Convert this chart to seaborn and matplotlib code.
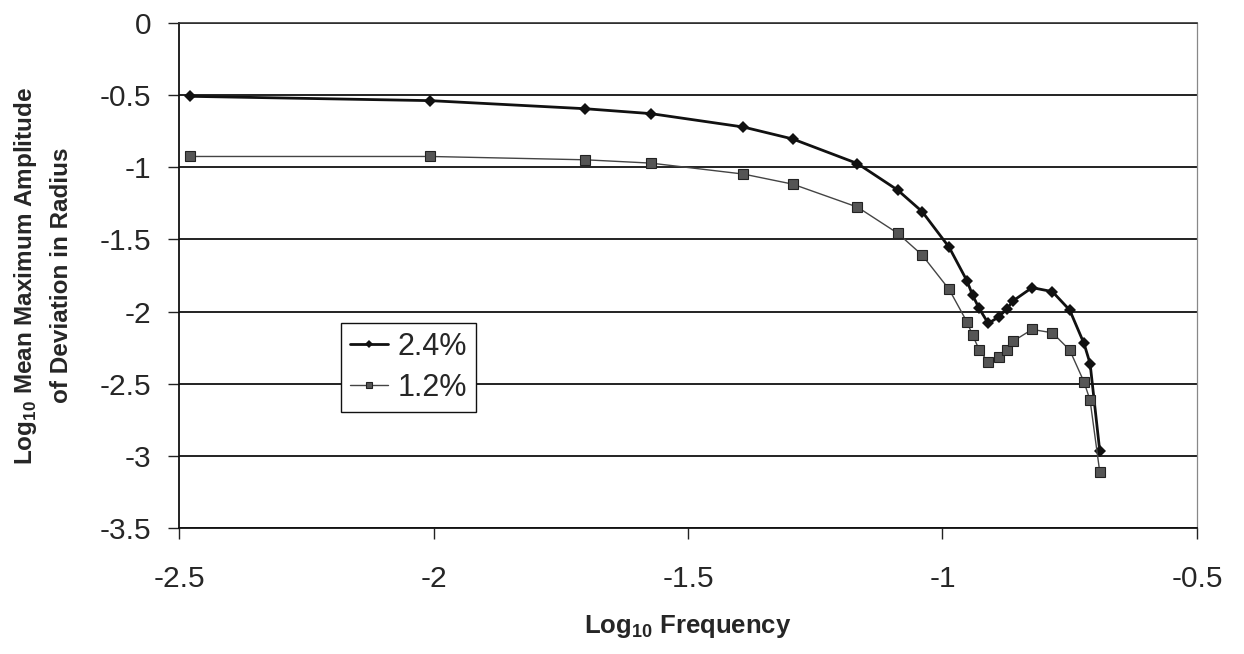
import matplotlib
matplotlib.use("Agg")
import matplotlib.pyplot as plt
import seaborn as sns
import pandas as pd

# Log10 frequency at which each run was sampled
log_freq = [-2.479, -2.006, -1.702, -1.573, -1.391, -1.294, -1.167, -1.088,
            -1.040, -0.987, -0.952, -0.941, -0.928, -0.910, -0.889, -0.874,
            -0.861, -0.824, -0.784, -0.750, -0.722, -0.710, -0.691]

# Log10 mean maximum amplitude of radius deviation, per forcing level
amp_24 = [-0.508, -0.538, -0.594, -0.628, -0.721, -0.804, -0.974, -1.158,
          -1.307, -1.554, -1.786, -1.885, -1.978, -2.082, -2.036, -1.983,
          -1.925, -1.834, -1.862, -1.990, -2.221, -2.360, -2.967]
amp_12 = [-0.925, -0.925, -0.948, -0.971, -1.047, -1.117, -1.276, -1.457,
          -1.608, -1.846, -2.071, -2.163, -2.263, -2.353, -2.318, -2.263,
          -2.205, -2.124, -2.147, -2.267, -2.487, -2.615, -3.112]

series_names = ["2.4%", "1.2%"]
x_ticks = [-2.5, -2, -1.5, -1, -0.5]
y_ticks = [0, -0.5, -1, -1.5, -2, -2.5, -3, -3.5]

sns.set_style("white")
plt.rcParams["font.family"] = ["Liberation Sans", "DejaVu Sans"]
plt.rcParams["axes.unicode_minus"] = False
plt.rcParams["mathtext.fontset"] = "custom"
plt.rcParams["mathtext.rm"] = "Liberation Sans"
plt.rcParams["mathtext.bf"] = "Liberation Sans:bold"

df24 = pd.DataFrame({"x": log_freq, "y": amp_24})
df12 = pd.DataFrame({"x": log_freq, "y": amp_12})

fig = plt.figure(figsize=(12.44, 6.54), dpi=100)
ax = fig.add_axes([0.1439, 0.1927, 0.8183, 0.7721])

sns.lineplot(data=df24, x="x", y="y", ax=ax, sort=False, color="#111111",
             linewidth=2.0, marker="D", markersize=6.5, markeredgewidth=0,
             markerfacecolor="#111111", label=series_names[0])
sns.lineplot(data=df12, x="x", y="y", ax=ax, sort=False, color="#444444",
             linewidth=1.0, marker="s", markersize=6.5, markeredgewidth=0.8,
             markeredgecolor="#222222", markerfacecolor="#555555",
             label=series_names[1])

ax.set_xlim(-2.5, -0.5)
ax.set_ylim(-3.5, 0)
ax.set_xticks(x_ticks)
ax.set_yticks(y_ticks)
ax.set_xticklabels([f"{v:g}" for v in x_ticks])
ax.set_yticklabels([f"{v:g}" for v in y_ticks])

# horizontal gridlines only, drawn behind the series
ax.yaxis.grid(True, color="#111111", linewidth=1.3)
ax.xaxis.grid(False)
ax.set_axisbelow(True)

ax.tick_params(axis="y", which="major", direction="out", length=8, width=1.0,
               color="#222222", pad=12, labelsize=21.5, left=True)
ax.tick_params(axis="x", which="major", direction="out", length=8, width=1.0,
               color="#222222", pad=19, labelsize=21.5, bottom=True)

for side in ["left", "bottom"]:
    ax.spines[side].set_color("#111111")
    ax.spines[side].set_linewidth(1.3)
ax.spines["top"].set_color("#333333")
ax.spines["top"].set_linewidth(1.2)
ax.spines["right"].set_color("#888888")
ax.spines["right"].set_linewidth(0.9)

ax.set_xlabel(r"Log$_{\mathbf{10}}$ Frequency", fontsize=18.5, fontweight="bold",
              labelpad=14)
ax.set_ylabel("Log$_{\\mathbf{10}}$ Mean Maximum Amplitude\nof Deviation in Radius",
              fontsize=17.5, fontweight="bold", labelpad=19, linespacing=1.6)

leg = ax.legend(loc="lower left", bbox_to_anchor=(0.159, 0.2297),
                borderaxespad=0, fontsize=22, frameon=True, fancybox=False,
                handlelength=1.25, handletextpad=0.3, borderpad=0.3,
                labelspacing=0.35, markerscale=0.7)
leg.get_frame().set_edgecolor("#111111")
leg.get_frame().set_linewidth(1.0)
leg.get_frame().set_facecolor("white")
leg.get_frame().set_alpha(1.0)

fig.savefig("out.png", dpi=100)
